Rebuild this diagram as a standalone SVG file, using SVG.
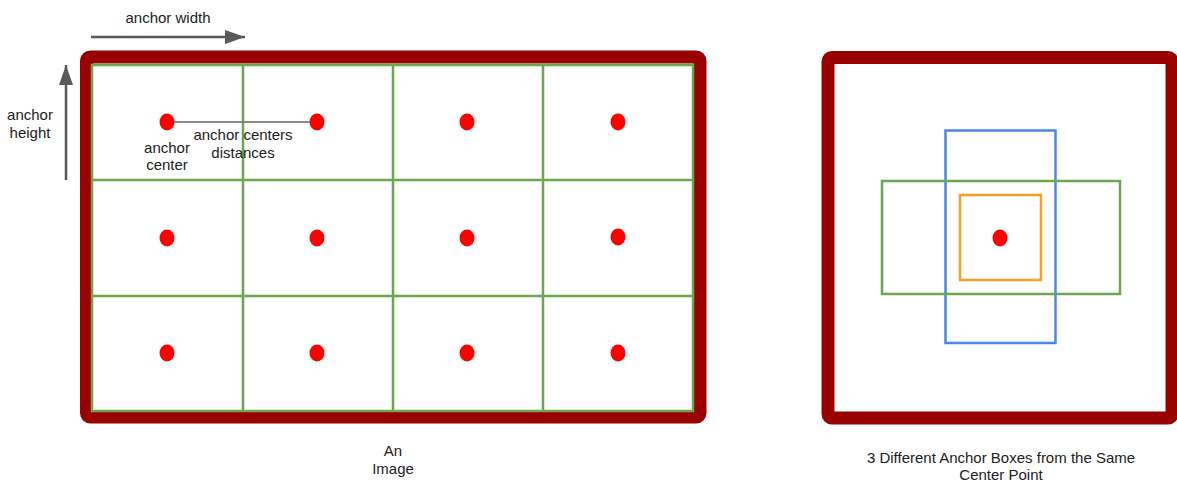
<svg xmlns="http://www.w3.org/2000/svg" width="1177" height="485" viewBox="0 0 1177 485">
<style>
text{font-family:"Liberation Sans",Arial,sans-serif;font-size:15px;fill:#222;text-anchor:middle}
.frame{fill:#fff;stroke:#990000;stroke-width:13}
.grid{stroke:#6aa84f;stroke-width:2.5;fill:none}
.dot{fill:#ff0000}
.arr{stroke:#595959;stroke-width:2.5;fill:none}
</style>
<defs>
<marker id="ah" viewBox="0 0 20 14" refX="20" refY="7" markerWidth="20" markerHeight="14" markerUnits="userSpaceOnUse" orient="auto">
<path d="M0,0 L20,7 L0,14 Z" fill="#595959"/>
</marker>
</defs>
<rect width="1177" height="485" fill="#fff"/>
<g id="image">
<rect class="frame" x="86.5" y="57" width="613.5" height="360" rx="4"/>
<rect class="grid" x="92" y="65" width="601" height="346"/>
<path class="grid" d="M243,65V411M393,65V411M543,65V411M92,180H693M92,296H693"/>
</g>
<g id="centers">
<ellipse class="dot" cx="167" cy="122" rx="7.5" ry="8.5"/>
<ellipse class="dot" cx="317" cy="122" rx="7.5" ry="8.5"/>
<ellipse class="dot" cx="467" cy="122" rx="7.5" ry="8.5"/>
<ellipse class="dot" cx="618" cy="122" rx="7.5" ry="8.5"/>
<ellipse class="dot" cx="167" cy="238" rx="7.5" ry="8.5"/>
<ellipse class="dot" cx="317" cy="238" rx="7.5" ry="8.5"/>
<ellipse class="dot" cx="467" cy="238" rx="7.5" ry="8.5"/>
<ellipse class="dot" cx="618" cy="237" rx="7.5" ry="8.5"/>
<ellipse class="dot" cx="167" cy="353" rx="7.5" ry="8.5"/>
<ellipse class="dot" cx="317" cy="353" rx="7.5" ry="8.5"/>
<ellipse class="dot" cx="467" cy="353" rx="7.5" ry="8.5"/>
<ellipse class="dot" cx="618" cy="353" rx="7.5" ry="8.5"/>
</g>
<g id="connectors">
<line class="arr" x1="91" y1="37" x2="245" y2="37" marker-end="url(#ah)"/>
<line class="arr" x1="66" y1="180" x2="66" y2="65" marker-end="url(#ah)"/>
<line x1="174" y1="122" x2="310" y2="122" stroke="#666" stroke-width="1.5"/>
</g>
<g id="labels">
<text x="168" y="23">anchor width</text>
<text x="30" y="120">anchor</text>
<text x="30" y="138">height</text>
<text x="243" y="140">anchor centers</text>
<text x="243" y="158">distances</text>
<text x="167" y="153">anchor</text>
<text x="167" y="170">center</text>
<text x="393" y="456">An</text>
<text x="393" y="474">Image</text>
<text x="1001" y="463">3 Different Anchor Boxes from the Same</text>
<text x="1001" y="480">Center Point</text>
</g>
<g id="anchors">
<rect class="frame" x="828" y="57.5" width="344" height="360.5" rx="4"/>
<rect x="945.5" y="130.5" width="110" height="212.5" fill="none" stroke="#4a86e8" stroke-width="2.5"/>
<rect x="882" y="181" width="238" height="113" fill="none" stroke="#6aa84f" stroke-width="2.5"/>
<rect x="960" y="195" width="81" height="85" fill="none" stroke="#f6a023" stroke-width="2.5"/>
<ellipse class="dot" cx="1000" cy="238" rx="7.5" ry="8.5"/>
</g>
</svg>
